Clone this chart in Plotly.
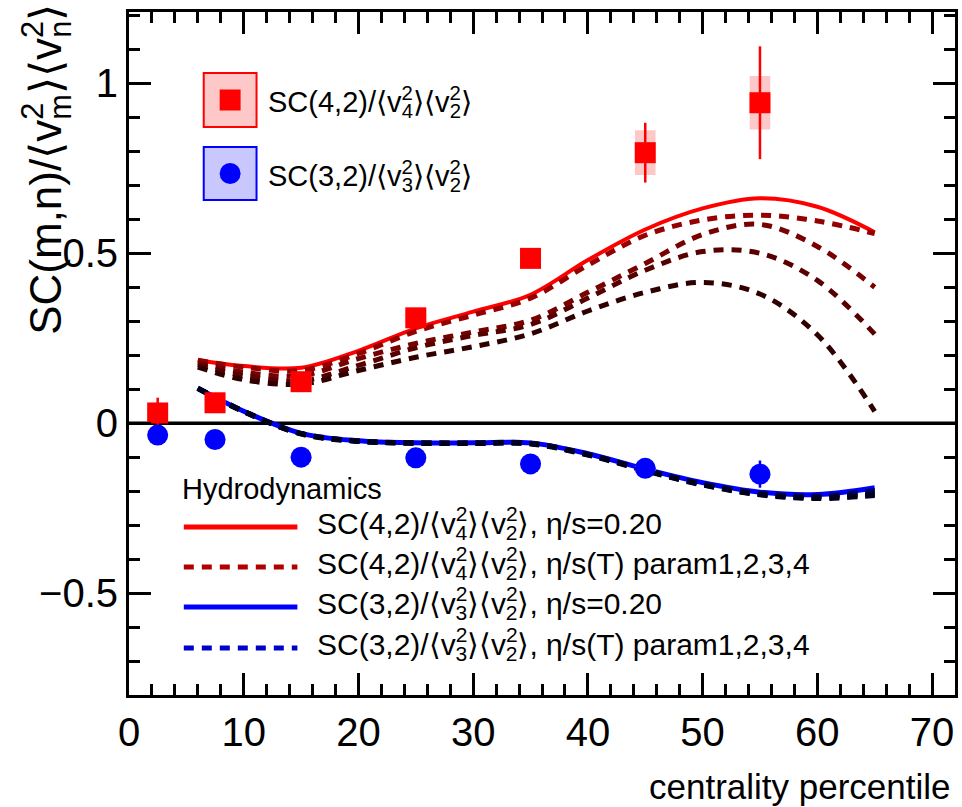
import plotly.graph_objects as go

# ---------------- data ----------------
cent = [2.5, 7.5, 15, 25, 35, 45, 55]

sc42 = [0.03, 0.06, 0.122, 0.31, 0.485, 0.796, 0.943]
sc42_stat = [0.045, 0.01, 0.01, 0.01, 0.012, 0.088, 0.166]
sc42_sys = [0.015, 0.012, 0.015, 0.02, 0.026, 0.066, 0.079]

sc32 = [-0.035, -0.048, -0.100, -0.102, -0.120, -0.133, -0.150]
sc32_stat = [0.008, 0.008, 0.008, 0.008, 0.008, 0.01, 0.04]
sc32_sys = [0.006, 0.006, 0.006, 0.006, 0.006, 0.008, 0.01]

hydro_x = [6, 10, 15, 20, 25, 30, 35, 40, 45, 50, 55, 60, 65]

sc42_eta020 = [0.185, 0.168, 0.163, 0.213, 0.279, 0.328, 0.378, 0.48, 0.57, 0.632, 0.662, 0.637, 0.562]
sc42_param = [
    [0.185, 0.165, 0.155, 0.205, 0.270, 0.318, 0.368, 0.465, 0.553, 0.598, 0.612, 0.595, 0.558],
    [0.178, 0.150, 0.140, 0.190, 0.235, 0.268, 0.303, 0.385, 0.470, 0.555, 0.585, 0.520, 0.400],
    [0.172, 0.140, 0.125, 0.170, 0.222, 0.258, 0.290, 0.368, 0.450, 0.505, 0.500, 0.420, 0.262],
    [0.165, 0.128, 0.115, 0.155, 0.194, 0.225, 0.263, 0.330, 0.385, 0.414, 0.380, 0.260, 0.035],
]

sc32_eta020 = [0.103, 0.035, -0.030, -0.052, -0.058, -0.058, -0.058, -0.090, -0.135, -0.175, -0.203, -0.210, -0.190]
sc32_param = [
    [0.103, 0.035, -0.030, -0.052, -0.058, -0.058, -0.059, -0.091, -0.137, -0.178, -0.206, -0.214, -0.198],
    [0.103, 0.035, -0.031, -0.053, -0.058, -0.059, -0.060, -0.092, -0.138, -0.180, -0.208, -0.217, -0.204],
    [0.102, 0.034, -0.031, -0.053, -0.059, -0.059, -0.060, -0.093, -0.139, -0.181, -0.210, -0.220, -0.209],
    [0.102, 0.034, -0.032, -0.054, -0.059, -0.060, -0.061, -0.094, -0.140, -0.182, -0.211, -0.222, -0.213],
]

y_tickvals = [-0.5, 0, 0.5, 1]
y_ticktext = ["\u22120.5", "0", "0.5", "1"]
x_tickvals = [0, 10, 20, 30, 40, 50, 60, 70]
x_ticktext = ["0", "10", "20", "30", "40", "50", "60", "70"]

# ---------------- styling ----------------
FONT = "Liberation Sans, Arial, Helvetica, sans-serif"
RED, BLUE = "#ff0000", "#0000ff"
PINK, LIGHTBLUE = "#ffc8c8", "#c8c8ff"
red_param_colors = ["#950000", "#780000", "#580000", "#300000"]
blue_param_colors = ["#000070", "#000050", "#000035", "#00001e"]
BOX_HALF = 0.9
LEG_SIZE = 30

W_FIG, H_FIG = 962, 807
L, R, T, B = 129, 958, 12, 695


def pxx(x):
    return (x - L) / (R - L)


def pxy(y):
    return (B - y) / (B - T)


def v2(sub, size):
    # <v^2_sub> with the superscript stacked over the subscript
    back = round(0.556 * 0.7 * size)
    return ("v<sup><span style='letter-spacing:-%dpx'>2</span></sup><sub>%s</sub>" % (back, sub))


def ratio(m, n, size):
    return "SC(%s,%s)/\u27e8%s\u27e9\u27e8%s\u27e9" % (m, n, v2(m, size), v2(n, size))


def sys_boxes(xs, ys, es):
    bx, by = [], []
    for x, y, e in zip(xs, ys, es):
        bx += [x - BOX_HALF, x + BOX_HALF, x + BOX_HALF, x - BOX_HALF, x - BOX_HALF, None]
        by += [y - e, y - e, y + e, y + e, y - e, None]
    return bx, by


fig = go.Figure()

# hydrodynamic curves: solid first, then the eta/s(T) parametrisations on top
fig.add_trace(go.Scatter(x=hydro_x, y=sc42_eta020, mode="lines", line=dict(color=RED, width=4, shape="spline")))
for ys, c in zip(sc42_param, red_param_colors):
    fig.add_trace(go.Scatter(x=hydro_x, y=ys, mode="lines",
                             line=dict(color=c, width=5, shape="spline", dash="10px,8px")))
fig.add_trace(go.Scatter(x=hydro_x, y=sc32_eta020, mode="lines", line=dict(color=BLUE, width=5, shape="spline")))
for ys, c in zip(sc32_param, blue_param_colors):
    fig.add_trace(go.Scatter(x=hydro_x, y=ys, mode="lines",
                             line=dict(color=c, width=5, shape="spline", dash="10px,8px")))

# systematic uncertainty boxes
bx, by = sys_boxes(cent, sc42, sc42_sys)
fig.add_trace(go.Scatter(x=bx, y=by, mode="lines", fill="toself", fillcolor=PINK,
                         line=dict(width=0, color=PINK)))
bx, by = sys_boxes(cent, sc32, sc32_sys)
fig.add_trace(go.Scatter(x=bx, y=by, mode="lines", fill="toself", fillcolor=LIGHTBLUE,
                         line=dict(width=0, color=LIGHTBLUE)))

# measured points with statistical errors
fig.add_trace(go.Scatter(x=cent, y=sc42, mode="markers",
                         marker=dict(symbol="square", size=21, color=RED),
                         error_y=dict(type="data", array=sc42_stat, color=RED, thickness=2.5, width=0)))
fig.add_trace(go.Scatter(x=cent, y=sc32, mode="markers",
                         marker=dict(symbol="circle", size=21, color=BLUE),
                         error_y=dict(type="data", array=sc32_stat, color=BLUE, thickness=2.5, width=0)))

shapes = []
annotations = []

# horizontal line at zero
shapes.append(dict(type="line", xref="paper", yref="y", x0=0, x1=1, y0=0, y1=0,
                   line=dict(color="black", width=3.5), layer="below"))

# top-left legend for the data points
for (y0, y1), fill, edge, sym, lab in [((73, 127), PINK, RED, "rect", ratio(4, 2, 29)),
                                        ((147, 200), LIGHTBLUE, BLUE, "circle", ratio(3, 2, 29))]:
    shapes.append(dict(type="rect", xref="paper", yref="paper",
                       x0=pxx(204), x1=pxx(257), y0=pxy(y1), y1=pxy(y0),
                       fillcolor=fill, line=dict(color=edge, width=2)))
    cy = (y0 + y1) / 2
    shapes.append(dict(type=sym, xref="paper", yref="paper",
                       x0=pxx(220), x1=pxx(241), y0=pxy(cy + 10.5), y1=pxy(cy - 10.5),
                       fillcolor=edge, line=dict(width=0)))
    annotations.append(dict(text=lab, xref="paper", yref="paper", x=pxx(266), y=pxy(cy + 2),
                            xanchor="left", yanchor="middle", showarrow=False,
                            font=dict(family=FONT, size=29, color="black")))

# hydrodynamics legend
annotations.append(dict(text="Hydrodynamics", xref="paper", yref="paper", x=pxx(180), y=pxy(489),
                        xanchor="left", yanchor="middle", showarrow=False,
                        font=dict(family=FONT, size=29, color="black")))
hyd_rows = [
    (527, RED, "solid", ratio(4, 2, LEG_SIZE) + ", \u03b7/s=0.20"),
    (567, "#b00000", "10px,8px", ratio(4, 2, LEG_SIZE) + ", \u03b7/s(T) param1,2,3,4"),
    (607, BLUE, "solid", ratio(3, 2, LEG_SIZE) + ", \u03b7/s=0.20"),
    (648, "#0000cc", "10px,8px", ratio(3, 2, LEG_SIZE) + ", \u03b7/s(T) param1,2,3,4"),
]
for yrow, col, dash, lab in hyd_rows:
    shapes.append(dict(type="line", xref="paper", yref="paper",
                       x0=pxx(184), x1=pxx(298), y0=pxy(yrow), y1=pxy(yrow),
                       line=dict(color=col, width=5, dash=dash)))
    annotations.append(dict(text=lab, xref="paper", yref="paper", x=pxx(316), y=pxy(yrow - 2),
                            xanchor="left", yanchor="middle", showarrow=False,
                            font=dict(family=FONT, size=LEG_SIZE, color="black")))

# axis titles
annotations.append(dict(text="SC(m,n)/\u27e8%s\u27e9\u27e8%s\u27e9" % (v2("m", 44), v2("n", 44)),
                        xref="paper", yref="paper", x=pxx(46), y=pxy(2), textangle=-90,
                        xanchor="center", yanchor="top", showarrow=False,
                        font=dict(family=FONT, size=44, color="black")))
annotations.append(dict(text="centrality percentile", xref="paper", yref="paper",
                        x=pxx(956), y=pxy(786), xanchor="right", yanchor="middle", showarrow=False,
                        font=dict(family=FONT, size=35, color="black")))

axis_common = dict(showline=True, linecolor="black", linewidth=3, mirror="allticks",
                   ticks="inside", tickcolor="black", tickwidth=3, ticklen=22,
                   showgrid=False, tickfont=dict(family=FONT, size=40, color="black"))

fig.update_layout(
    width=W_FIG, height=H_FIG,
    margin=dict(l=L, r=W_FIG - R, t=T, b=H_FIG - B),
    paper_bgcolor="white", plot_bgcolor="white",
    showlegend=False,
    shapes=shapes, annotations=annotations,
    xaxis=dict(range=[0, 72], tickmode="array", tickvals=x_tickvals, ticktext=x_ticktext,
               minor=dict(dtick=2, tick0=0, ticks="inside", ticklen=11, tickwidth=3, tickcolor="black"),
               zeroline=False, **axis_common),
    yaxis=dict(range=[-0.8, 1.21], tickmode="array", tickvals=y_tickvals, ticktext=y_ticktext,
               minor=dict(dtick=0.1, tick0=0, ticks="inside", ticklen=11, tickwidth=3, tickcolor="black"),
               zeroline=False, **axis_common),
)

fig.write_html("out.html")
